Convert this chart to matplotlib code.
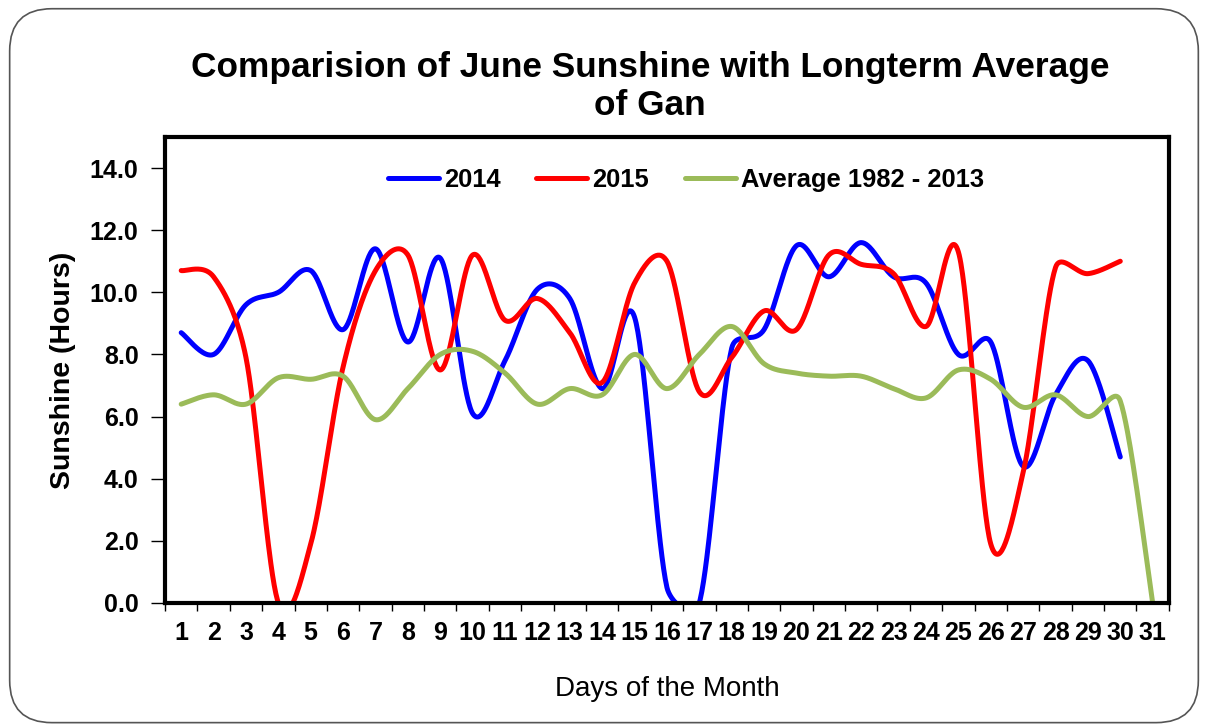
import numpy as np
import matplotlib.pyplot as plt
from matplotlib.patches import FancyBboxPatch

plt.rcParams['font.family'] = ['Liberation Sans', 'DejaVu Sans']

days = list(range(1, 32))
sun_2014 = [8.7, 8.0, 9.6, 10.0, 10.7, 8.8, 11.4, 8.4, 11.1, 6.1, 7.8, 10.1, 9.8, 6.9, 9.2,
            0.5, 0.0, 8.2, 8.8, 11.5, 10.5, 11.6, 10.5, 10.3, 8.0, 8.4, 4.4, 6.7, 7.8, 4.7]
sun_2015 = [10.7, 10.5, 7.9, 0.0, 1.9, 7.6, 10.7, 11.2, 7.5, 11.2, 9.1, 9.8, 8.7, 7.1, 10.3,
            11.0, 6.8, 7.9, 9.4, 8.8, 11.2, 10.9, 10.6, 8.9, 11.3, 1.9, 4.2, 10.8, 10.6, 11.0]
sun_avg = [6.4, 6.7, 6.4, 7.25, 7.2, 7.3, 5.9, 6.9, 8.0, 8.1, 7.4, 6.4, 6.9, 6.7, 8.0,
           6.9, 8.0, 8.9, 7.7, 7.4, 7.3, 7.3, 6.9, 6.6, 7.5, 7.2, 6.3, 6.7, 6.0, 6.5, 0.0]

labels = ["2014", "2015", "Average 1982 - 2013"]
colors = ["#0000FF", "#FF0000", "#9BBB59"]

FIG_W, FIG_H = 1208, 727
AX_RECT = [0.1366, 0.1706, 0.8310, 0.641]
XLIM = (0.5, 31.5)
YLIM = (0, 15)


def smooth(x, y, n=40):
    # Excel style smoothed line: bezier segments, control points 1/6 of the
    # neighbour vector, capped at half the segment length (screen space)
    sx = AX_RECT[2]*FIG_W / (XLIM[1]-XLIM[0])
    sy = AX_RECT[3]*FIG_H / (YLIM[1]-YLIM[0])
    P = np.column_stack([np.asarray(x, float)*sx, np.asarray(y, float)*sy])
    P = np.vstack([P[0], P, P[-1]])
    t = np.linspace(0, 1, n)[:, None]
    out = []
    for i in range(1, len(P) - 2):
        p0, p1, p2, p3 = P[i-1], P[i], P[i+1], P[i+2]
        d = np.hypot(*(p2 - p1))
        o1 = (p2 - p0) / 6
        o2 = (p3 - p1) / 6
        for o in (o1, o2):
            L = np.hypot(*o)
            if L > d/2 and L > 0:
                o *= (d/2) / L
        c1 = p1 + o1
        c2 = p2 - o2
        seg = (1-t)**3*p1 + 3*(1-t)**2*t*c1 + 3*(1-t)*t**2*c2 + t**3*p2
        out.append(seg)
    out = np.vstack(out)
    return out[:, 0]/sx, out[:, 1]/sy


fig = plt.figure(figsize=(FIG_W/100, FIG_H/100), dpi=100)
fig.patches.append(FancyBboxPatch((0.008, 0.006), 0.984, 0.982,
                                  boxstyle="round,pad=0,rounding_size=0.035",
                                  transform=fig.transFigure, facecolor='none',
                                  edgecolor='#555555', linewidth=1.2, zorder=0,
                                  mutation_aspect=FIG_W/FIG_H))

ax = fig.add_axes(AX_RECT)

for series, lab, col in zip([sun_2014, sun_2015, sun_avg], labels, colors):
    xs, ys = smooth(days[:len(series)], series)
    ax.plot(xs, ys, color=col, lw=3.6, label=lab, solid_capstyle='round')

ax.set_xlim(*XLIM)
ax.set_ylim(*YLIM)
ax.set_yticks(np.arange(0, 15, 2))
ax.set_yticklabels(["%.1f" % v for v in np.arange(0, 15, 2)], fontsize=18, fontweight='bold')
ax.set_xticks(np.arange(0.5, 32, 1))
ax.set_xticklabels([])
ax.set_xticks(days, minor=True)
ax.set_xticklabels([str(d) for d in days], minor=True, fontsize=18, fontweight='bold')
ax.tick_params(axis='x', which='minor', length=0, pad=13)
ax.tick_params(axis='x', which='major', length=6, width=1, direction='out')
ax.tick_params(axis='y', length=10, width=1, direction='out', pad=9)

for s in ax.spines.values():
    s.set_linewidth(3)

ax.set_xlabel("Days of the Month", fontsize=20, labelpad=22)
ax.set_ylabel("Sunshine (Hours)", fontsize=20.5, fontweight='bold', labelpad=10)

ax.legend(loc='center', bbox_to_anchor=(0.519, 0.908), ncol=3, frameon=False,
          prop={'size': 18.4, 'weight': 'bold'}, handlelength=2.0,
          handletextpad=0.2, columnspacing=1.4)

fig.text(0.538, 0.881, "Comparision of June Sunshine with Longterm Average\nof Gan",
         ha='center', va='center', fontsize=25.4, fontweight='bold', linespacing=1.18)

fig.savefig("out.png", dpi=100)
